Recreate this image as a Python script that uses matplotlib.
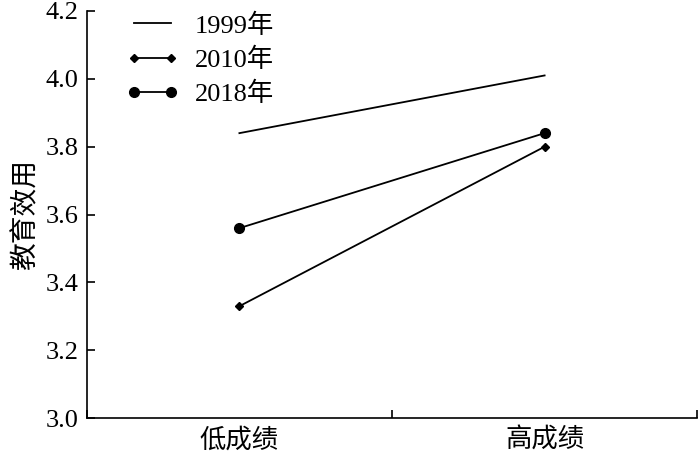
import matplotlib
matplotlib.use('Agg')
import matplotlib.pyplot as plt

plt.rcParams['font.family'] = ['Liberation Serif', 'Noto Sans CJK SC']

# --- DATA ---
categories = ['低成绩', '高成绩']
years = ['1999年', '2010年', '2018年']
v1999 = [3.84, 4.01]
v2010 = [3.33, 3.80]
v2018 = [3.56, 3.84]

x = [0.5, 1.5]

fig = plt.figure(figsize=(7, 4.58), dpi=100)
ax = fig.add_axes([0.124, 0.087, 0.872, 0.889])

ax.plot(x, v1999, color='black', lw=1.3, label=years[0])
ax.plot(x, v2010, color='black', lw=1.3, marker='D', ms=4.5, label=years[1])
ax.plot(x, v2018, color='black', lw=1.3, marker='o', ms=7, label=years[2])

ax.set_xlim(0, 2)
ax.set_ylim(3.0, 4.2)
ax.set_yticks([3.0, 3.2, 3.4, 3.6, 3.8, 4.0, 4.2])
ax.set_yticklabels(['3.0', '3.2', '3.4', '3.6', '3.8', '4.0', '4.2'], fontsize=19)
ax.set_xticks([0, 1, 2])
ax.set_xticklabels([])
ax.set_xticks(x, minor=True)
ax.set_xticklabels(categories, minor=True, fontsize=19)
ax.tick_params(axis='x', which='minor', length=0, pad=7)
ax.tick_params(axis='both', which='major', direction='in', length=6, width=1.2)
ax.tick_params(axis='y', pad=6)
ax.set_ylabel('教育效用', fontsize=20, labelpad=4)

for s in ['top', 'right']:
    ax.spines[s].set_visible(False)
for s in ['left', 'bottom']:
    ax.spines[s].set_linewidth(1.2)

ax.legend(loc='upper left', frameon=False, fontsize=19, numpoints=2,
          handlelength=2.0, handletextpad=0.6, borderaxespad=0.0,
          labelspacing=0.38, bbox_to_anchor=(0.047, 1.02))

fig.savefig('out.png', dpi=100)
